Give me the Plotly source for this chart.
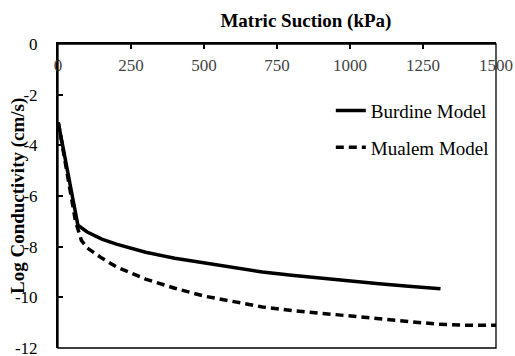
import plotly.graph_objects as go

# Matric suction (kPa) and log hydraulic conductivity (cm/s) for each model
burdine_suction = [1, 20, 40, 68, 100, 150, 200, 300, 400, 500, 600, 700, 800, 900, 1000, 1100, 1200, 1310]
burdine_logk = [-3.1, -4.25, -5.45, -7.15, -7.42, -7.7, -7.9, -8.22, -8.46, -8.65, -8.83, -9.0, -9.13,
                -9.25, -9.36, -9.46, -9.56, -9.66]

mualem_suction = [1, 20, 40, 60, 80, 100, 150, 200, 300, 400, 500, 600, 700, 800, 900, 1000, 1100,
                  1200, 1300, 1400, 1500]
mualem_logk = [-3.1, -4.3, -5.6, -7.0, -7.75, -8.05, -8.45, -8.8, -9.28, -9.64, -9.95, -10.18, -10.38,
               -10.52, -10.63, -10.75, -10.86, -10.97, -11.06, -11.1, -11.1]

x_ticks = [0, 250, 500, 750, 1000, 1250, 1500]
y_ticks = [0, -2, -4, -6, -8, -10, -12]
# plain hyphen-minus labels for the conductivity axis
y_tick_labels = ["0", "-2", "-4", "-6", "-8", "-10", "-12"]

SERIF = "Liberation Serif"

fig = go.Figure()
fig.add_trace(go.Scatter(
    x=burdine_suction, y=burdine_logk, mode="lines", name="Burdine Model",
    legendgroup="b", line=dict(color="black", width=3.5),
))
fig.add_trace(go.Scatter(
    x=mualem_suction, y=mualem_logk, mode="lines", name="Mualem Model",
    legendgroup="m", line=dict(color="black", width=3.5, dash="8px,5px"),
))

fig.update_layout(
    width=515, height=356,
    margin=dict(l=58, r=19, t=44, b=8, autoexpand=False),
    paper_bgcolor="white", plot_bgcolor="white",
    font=dict(family=SERIF, color="black", size=17),
    showlegend=True,
    title=dict(
        text="<b>Matric Suction (kPa)</b>", font=dict(family=SERIF, size=19),
        x=0.566, xanchor="center", xref="paper", y=0.944, yanchor="middle", yref="container",
    ),
    legend=dict(
        x=0.995, xanchor="right", y=0.72, yanchor="middle",
        bgcolor="rgba(0,0,0,0)", borderwidth=0,
        font=dict(family=SERIF, size=19),
        tracegroupgap=9,
    ),
    xaxis=dict(
        side="top", range=[0, 1500], tickvals=x_ticks,
        ticks="inside", ticklen=5, tickwidth=1.5, tickcolor="black",
        ticklabelposition="inside", ticklabeloverflow="allow", ticklabelstandoff=11,
        showline=True, linecolor="black", linewidth=2, showgrid=False, zeroline=False,
        tickfont=dict(family=SERIF, size=17),
    ),
    yaxis=dict(
        range=[-12, 0], tickvals=y_ticks, ticktext=y_tick_labels,
        ticks="inside", ticklen=5, tickwidth=1.5, tickcolor="black",
        ticklabelstandoff=15, ticklabeloverflow="allow",
        showline=True, linecolor="black", linewidth=2, showgrid=False, zeroline=False,
        tickfont=dict(family=SERIF, size=17),
    ),
    annotations=[dict(
        text="<b>Log Conductivity (cm/s)</b>", textangle=-90, showarrow=False,
        xref="paper", yref="paper", x=-0.0913, y=0.5, xanchor="center", yanchor="middle",
        font=dict(family=SERIF, size=19),
    )],
    shapes=[dict(
        type="rect", xref="x domain", yref="y domain", x0=0, x1=1, y0=0, y1=1,
        line=dict(color="black", width=1.3), fillcolor="rgba(0,0,0,0)", layer="above",
    )],
)

fig.write_html("out.html")
